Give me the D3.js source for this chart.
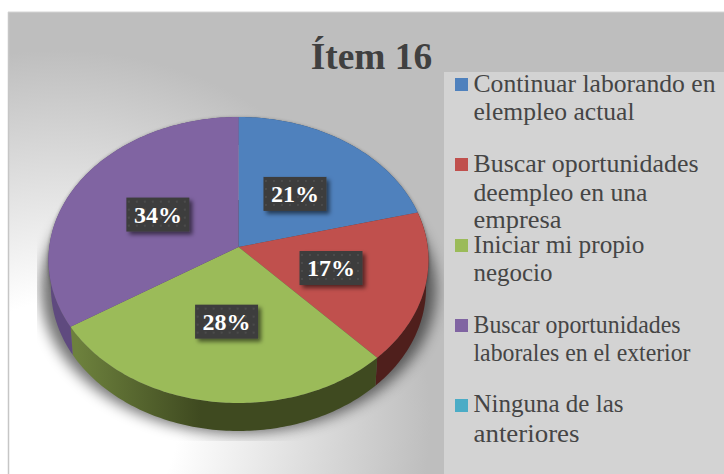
<!DOCTYPE html>
<html><head><meta charset="utf-8">
<script src="https://cdn.jsdelivr.net/npm/d3@7"></script>
<style>html,body{margin:0;padding:0;background:#fff}svg{display:block}</style>
</head><body>
<svg id="c" width="724" height="474"></svg>
<script>
const categories = ["Continuar laborando en elempleo actual","Buscar oportunidades deempleo en una empresa","Iniciar mi propio negocio","Buscar oportunidades laborales en el exterior","Ninguna de las anteriores"];
const values = [21,17,28,34,0];
const colors = ["#4f81bd","#c0504d","#9bbb59","#8064a2","#4bacc6"];
const wallColors = ["#2f4d71","#4f1f1c","url(#greenWall)","#5f4a7f","#2d6776"];
const legendLines = [["Continuar laborando en","elempleo actual"],["Buscar oportunidades","deempleo en una","empresa"],["Iniciar mi propio","negocio"],["Buscar oportunidades","laborales en el exterior"],["Ninguna de las","anteriores"]];
const title = "Ítem 16";

// Layout (not data)
const legendBaselines = [[92,120],[172,201,228],[253,281],[333,361],[412,442]];
const legendWidths = [[242,161],[225,174,88],[171,79],[207,217],[150,106]];
const swatchTops = [78,158,239,319,399];

const svg = d3.select("#c");
const defs = svg.append("defs");
const bg = defs.append("radialGradient").attr("id","bg").attr("gradientUnits","userSpaceOnUse")
  .attr("cx",60).attr("cy",420).attr("r",370);
bg.append("stop").attr("offset",0.32).attr("stop-color","#ffffff");
bg.append("stop").attr("offset",1).attr("stop-color","#bebebe");
const gw = defs.append("linearGradient").attr("id","greenWall").attr("gradientUnits","userSpaceOnUse")
  .attr("x1",77).attr("x2",200).attr("y1",0).attr("y2",0);
gw.append("stop").attr("offset",0).attr("stop-color","#6d813d");
gw.append("stop").attr("offset",1).attr("stop-color","#3f4a20");
defs.append("filter").attr("id","blur").attr("x","-20%").attr("y","-20%").attr("width","140%").attr("height","140%")
  .append("feGaussianBlur").attr("stdDeviation",7);
defs.append("filter").attr("id","edge").attr("x","-5%").attr("y","-5%").attr("width","110%").attr("height","110%")
  .append("feGaussianBlur").attr("stdDeviation",1.5);
const ds = defs.append("filter").attr("id","boxShadow").attr("x","-20%").attr("y","-20%").attr("width","150%").attr("height","160%");
ds.append("feDropShadow").attr("dx",3).attr("dy",3).attr("stdDeviation",2.2).attr("flood-color","#000").attr("flood-opacity",0.55);
const pat = defs.append("pattern").attr("id","dots").attr("width",8).attr("height",8).attr("patternUnits","userSpaceOnUse");
pat.append("rect").attr("width",8).attr("height",8).attr("fill","#3d3d3d");
pat.append("rect").attr("x",2).attr("y",2).attr("width",2).attr("height",2).attr("fill","#4c4c4c");
defs.append("clipPath").attr("id","shadowClip").append("rect").attr("x",37).attr("y",200).attr("width",420).attr("height",241);

svg.append("rect").attr("width",724).attr("height",474).attr("fill","#fff");
svg.append("rect").attr("x",8).attr("y",12).attr("width",716).attr("height",462).attr("fill","url(#bg)");
svg.append("line").attr("x1",8.5).attr("x2",8.5).attr("y1",12).attr("y2",474).attr("stroke","#c6c6c6").attr("stroke-width",1.5);
svg.append("line").attr("x1",8).attr("x2",724).attr("y1",12).attr("y2",12).attr("stroke","#d4d4d4");

// Perspective projection of the pie disc
const cx = 238.5, cy = 247, A = 189.2, B = 141.8, p = 0.0909, depth = 28, baseScale = 0.987;
function proj(phi, r = 1, scale = 1, dy = 0) {
  const u = Math.sin(phi) * r, v = -Math.cos(phi) * r, s = 1 / (1 - p * v);
  return [cx + A * u * s * scale, cy + B * v * s + dy];
}
const arcs = d3.pie().value(d => d).sort(null)(values);
const line = d3.line();
const rim = (a, scale, dy) => {
  const n = Math.max(2, Math.ceil((a.endAngle - a.startAngle) * 60));
  return d3.range(n + 1).map(i => proj(a.startAngle + (a.endAngle - a.startAngle) * i / n, 1, scale, dy));
};
const full = {startAngle: 0, endAngle: 2 * Math.PI};

// Shadow
svg.append("g").attr("clip-path","url(#shadowClip)")
  .append("path").attr("d", line(rim(full, 1.04, 30)) + "Z")
  .attr("fill","#000").attr("opacity",0.55).attr("filter","url(#blur)");
// Soft halo
svg.append("path").attr("d", line(rim(full, 1.004, 0)) + "Z").attr("fill","#000").attr("opacity",0.25).attr("filter","url(#edge)");

const live = arcs.map((a, i) => ({a, i})).filter(d => d.a.endAngle > d.a.startAngle);
// Walls
svg.append("g").selectAll("path").data(live).join("path")
  .attr("d", d => line(rim(d.a, 1, 0).concat(rim(d.a, baseScale, depth).reverse())) + "Z")
  .attr("fill", d => wallColors[d.i]);
// Top faces
svg.append("g").selectAll("path").data(live).join("path")
  .attr("d", d => line([[cx, cy]].concat(rim(d.a, 1, 0))) + "Z")
  .attr("fill", d => colors[d.i]);

// Data labels
const boxW = 63, boxH = 34;
const labels = svg.append("g").selectAll("g").data(live).join("g")
  .attr("transform", d => {
    const c = proj((d.a.startAngle + d.a.endAngle) / 2, 0.5);
    return `translate(${c[0] + 0.5},${c[1] + 1})`;
  });
labels.append("rect").attr("x",-boxW/2).attr("y",-boxH/2).attr("width",boxW).attr("height",boxH)
  .attr("fill","url(#dots)").attr("filter","url(#boxShadow)");
labels.append("text").attr("text-anchor","middle").attr("y",8)
  .attr("font-family","'Liberation Serif',serif").attr("font-weight","bold").attr("font-size",24).attr("fill","#fff")
  .text(d => d3.format(".0f")(d.a.value) + "%");

// Title
svg.append("text").attr("x",371.5).attr("y",69).attr("text-anchor","middle")
  .attr("font-family","'Liberation Serif',serif").attr("font-weight","bold").attr("font-size",37.4).attr("fill","#404040").text(title);

// Legend
svg.append("rect").attr("x",444).attr("y",72).attr("width",280).attr("height",402).attr("fill","#d3d3d3");
const leg = svg.append("g").selectAll("g").data(categories).join("g");
leg.append("rect").attr("x",455).attr("y",(d,i)=>swatchTops[i]).attr("width",13).attr("height",13).attr("fill",(d,i)=>colors[i]);
leg.each(function(d,i){
  d3.select(this).selectAll("text").data(legendLines[i]).join("text")
    .attr("x",473.5).attr("y",(t,j)=>legendBaselines[i][j])
    .attr("textLength",(t,j)=>legendWidths[i][j]).attr("lengthAdjust","spacingAndGlyphs")
    .attr("font-family","'Liberation Serif',serif").attr("font-size",25).attr("fill","#454545").text(t=>t);
});
</script>
</body></html>
